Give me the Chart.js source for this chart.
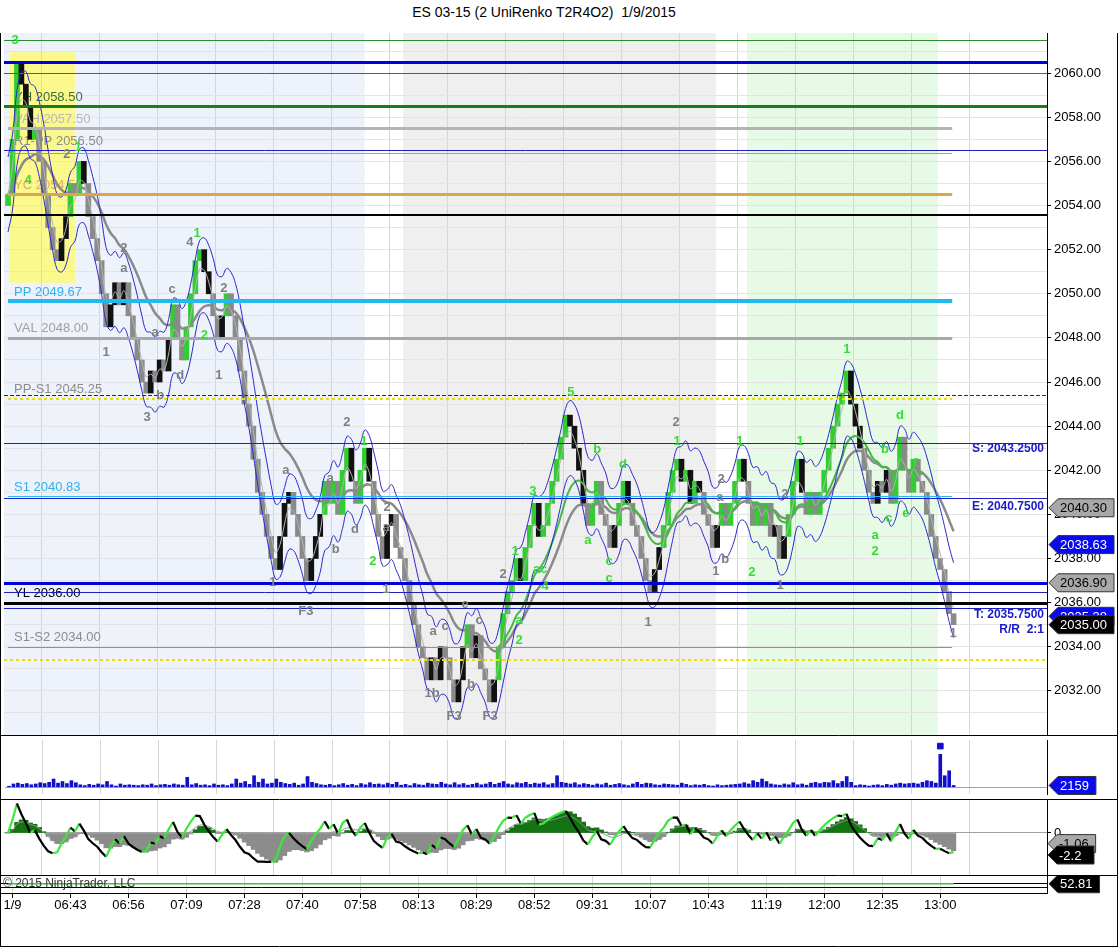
<!DOCTYPE html>
<html>
<head>
<meta charset="utf-8"/>
<title>ES 03-15 UniRenko</title>
<script src="https://cdn.jsdelivr.net/npm/chart.js@4.4.1/dist/chart.umd.min.js"></script>
<style>
  body { margin:0; background:#fff; width:1118px; height:947px; position:relative; overflow:hidden; font-family:"Liberation Sans", Arial, sans-serif; }
  .title { position:absolute; top:4px; left:0; width:1088px; text-align:center; font-size:14px; line-height:16px; color:#000; white-space:pre; }
  canvas { position:absolute; left:0; }
</style>
</head>
<body>
<div class="title">ES 03-15 (2 UniRenko T2R4O2)  1/9/2015</div>
<canvas id="main" width="1118" height="702" style="top:33px"></canvas>
<canvas id="vol" width="1118" height="64" style="top:735px"></canvas>
<canvas id="osc" width="1118" height="76" style="top:799px"></canvas>
<canvas id="rsi" width="1118" height="72" style="top:875px"></canvas>
<script>
// ---- data ----
const tickIdx = [1,14,27,40,53,66,79,92,105,118,131,144,157,170,183,196,209];
const tickLabels = ['1/9','06:43','06:56','07:09','07:28','07:40','07:58','08:13','08:29','08:52','09:31','10:07','10:43','11:19','12:00','12:35','13:00'];

// renko brick closes, one per brick
const closes = [
  2054.5,2057,2060.5,2059.5,2058.5,2057,2057.5,2056,2054.5,2053,2052,2051.5,
  2052.5,2053.5,2055,2054.5,2056,2055,
  2053.5,2052.5,2051.5,2050,2048.5,
  2049.5,2050.5,2049.5,2050.5,2049,
  2048,2047,2046,2045.5,
  2046.5,2046,2047,2046.5,
  2048,2049.5,2048,2047,
  2048.5,2050,2051.5,2052,
  2051,2050,2049,2048,2049,2050,2049,
  2048,2046.5,2045,2044,2042.5,2041,2040,2039,2038,2037.5,
  2039,2040.5,2041,2040,2039,2038,2037,2038,2039,
  2040,2041.5,2040.5,2041.5,2040,2042,2043,2041.5,2040.5,2042,2043,
  2041.5,2040,2039,2038,2039.5,2040,2038.5,2038,
  2037,2036,2035,2034,2033.5,2032.5,
  2033.5,2032.5,2034,2033.5,2032.5,2031.5,2032.5,
  2034,2035,2033.5,2034.5,2033,2032.5,2031.5,2032.5,
  2034,2035.5,2036.5,2037,2038,2037,2038.5,2039.5,2040.5,
  2039,2039.5,2040.5,2041.5,2042.5,2043.5,2044.5,2044,
  2043,2042,2040.5,2039.5,
  2040.5,2041.5,2040,2039.5,2038.5,2039.5,2040.5,2041.5,
  2040.5,2039.5,2039,2038,2037,2036.5,
  2037.5,2038.5,2039.5,2041,2042,2042.5,
  2041.5,2042,2040.5,2041.5,2041,2040,2039.5,2038.5,
  2039.5,2040.5,2039.5,2040.5,2041.5,2042.5,
  2041.5,2040.5,2039.5,2040.5,2039.5,2040.5,2039,2039.5,2038,
  2039,2040,2041.5,2042.5,2041,2040,2041,2040,2041,
  2042,2043,2044,2045,2045.5,2046.5,
  2045,2044,2043,2042,2041,2040.5,
  2041.5,2041,2042,2040.5,2042,2043.5,2042,2041,2042.5,
  2041.5,2041,2040,2039,2038,2037.5,2036.5,2035.5,2035
];

const volumes = [
  1200,4000,5000,3500,4500,3000,4000,5500,4500,6000,10000,5000,
  7000,4500,8000,5500,3000,2000,3500,2500,4000,3000,7000,3000,
  1500,4000,2500,3000,2500,2000,3000,2500,4000,2000,3000,3500,
  2500,4000,3000,2500,12000,3000,4500,2500,3000,2000,4000,2500,
  3000,2000,4000,10000,5000,7000,3500,14000,6000,10000,4000,5000,
  10000,6000,4500,3500,5000,2500,4000,13000,6000,4500,3000,2500,
  3500,2000,3000,4500,2500,3500,2000,4500,3000,5500,3500,4000,
  3000,5000,3500,6000,2500,3500,2000,4500,3000,2500,5000,4000,
  3500,6000,4000,3000,5500,3000,4500,2500,3500,5000,3000,4000,
  6000,3500,5000,7000,4000,3000,5500,4500,6000,3500,5000,4000,
  5500,3000,4500,14000,6000,5000,4000,5500,3000,4500,3500,2500,
  4000,3000,5000,2500,3500,4500,3000,2000,4000,6000,3500,5000,
  4500,3000,2500,4000,3500,3000,2500,5000,3500,2000,3000,2500,
  3500,2000,1500,3000,2000,2500,3000,3500,4000,5500,4000,8000,
  6000,10000,7000,4000,3000,2500,4000,3000,5500,3000,4000,2500,
  5000,6000,4500,6000,5500,8000,4500,7000,13000,6000,2000,3000,
  2500,1500,2500,3000,2000,3500,2500,4000,5000,4000,4500,5000,
  4000,6000,8000,7000,5000,40000,14000,20000,2159
];

// horizontal levels
const levelPrice = [2061.5,2060.5,2060.0,2058.5,2057.5,2056.5,2056.4,2054.5,2053.57,2049.67,2048.0,2045.4,2045.25,2043.25,2040.83,2040.75,2036.9,2036.5,2036.0,2035.75,2034.0,2033.4];
const levelColor = ['#2e8b2e','#0000dd','#e02424','#1c7c1c','#b4b4b4','#2020c0','#a0a0a0','#d8a848','#000000','#22b8f0','#a8a8a8','#20208a','#e6de10','#2020c0','#30b8f0','#2020c0','#0000dd','#2020c0','#000000','#2020c0','#909090','#e6de10'];
const levelWidth = [1,3,1,3,3,1,1,3,2,4,3,1,2,1,1,1,3,1,3,1,1,2];
const levelDash  = [0,0,0,0,0,0,0,0,0,0,0,1,2,0,0,0,0,0,0,0,0,2];
const levelFull  = [1,1,1,1,0,1,0,0,1,0,0,1,0,1,0,1,1,1,1,1,0,1];

const levelLabelText  = ['YH 2058.50','VAH 2057.50','R1-PP 2056.50','YC 2054.50','PP 2049.67','VAL 2048.00','PP-S1 2045.25','S1 2040.83','YL 2036.00','S1-S2 2034.00'];
const levelLabelPrice = [2058.5,2057.5,2056.5,2054.5,2049.67,2048.0,2045.25,2040.83,2036.0,2034.0];
const levelLabelColor = ['#3a6e3a','#b8b8b8','#8c8c8c','#d8b060','#30b0e8','#a0a0a0','#8c8c8c','#30b0e8','#000000','#8c8c8c'];

const rightText  = ['S: 2043.2500','E: 2040.7500','T: 2035.7500','R/R  2:1'];
const rightPrice = [2043.25,2040.75,2035.75,2035.75];

const tagVal  = [2040.30,2038.63,2036.90,2035.38,2035.00];
const tagText = ['2040.30','2038.63','2036.90','2035.38','2035.00'];
const tagBg   = ['#a8a8a8','#0a0aee','#a8a8a8','#0a0aee','#000000'];
const tagFg   = ['#000','#fff','#000','#fff','#fff'];

// wave count labels
const greenIdx   = [1.6,4.5,15.7,42.4,44,79.8,81.8,113.7,114.6,114.6,117.7,119.3,120.4,126.2,132.1,137.9,130,134.8,134.8,150,164.1,177.6,188.1,200,196.6,203.4,197.5,201.3,194.4,194.4,166.8];
const greenPrice = [2061.5,2055.15,2056.65,2052.75,2048.1,2043.3,2037.85,2038.3,2035.2,2034.3,2041.05,2037.5,2036.75,2045.55,2042.95,2042.25,2038.8,2037.85,2037.1,2043.3,2043.3,2043.3,2047.5,2044.5,2042.95,2042.3,2039.8,2040.05,2039.05,2038.3,2037.35];
const greenText  = ['3','4','1','1','2','1','2','1','a','2','3','ac','4','5','b','d','a','c','c','1','1','1','1','d','b','f','c','e','a','2','2'];
const grayIdx    = [13.2,26,26,22,31.2,33,34.1,36.8,38.6,40.8,48.4,47.3,62.3,59.4,66.8,72.2,73.5,77.8,76,85,84.8,84.8,95.1,95.3,98,102.5,105.6,103.8,100,108.1,111,149.8,143.5,159.9,159.6,160.8,158.7,173.1,174.2,211.9];
const grayPrice  = [2056.3,2052.05,2051.15,2047.35,2044.4,2048.25,2045.4,2050.2,2046.3,2052.35,2050.25,2046.3,2042.0,2036.9,2035.6,2041.65,2038.4,2039.3,2044.15,2040.3,2039.4,2036.6,2031.9,2034.7,2034.9,2035.9,2035.2,2032.3,2030.85,2030.85,2037.3,2044.15,2035.1,2041.6,2040.75,2037.95,2037.4,2036.8,2040.9,2034.6];
const grayText   = ['2','2','a','1','3','a','b','c','d','4','2','1','a','1','F3','a','b','d','2','2','a','1','1b','a','c','e','c','b','F3','F3','2','2','1','2','a','b','1','1','2','1'];

// session shading (brick index ranges)
const zoneFrom  = [-0.9, 88.6, 165.7];
const zoneTo    = [80.0, 158.7, 208.5];
const zoneColor = ['#eef2fb','#efefef','#e6fae6'];

// ---- derived series ----
function ema(src, n, from) {
  const a = 2 / (n + 1);
  const out = new Array(src.length).fill(null);
  let e = src[from];
  for (let i = from; i < src.length; i++) {
    e = i === from ? src[i] : e + a * (src[i] - e);
    out[i] = e;
  }
  return out;
}
const opens = closes.map((c, i) => {
  if (i === 0) return c - 0.5;
  const p = closes[i - 1];
  if (Math.abs(c - p) < 0.5) return c >= p ? c - 0.5 : c + 0.5;
  return p;
});
const slow = ema(closes, 18, 0);
const fast = ema(closes, 3, 0);
const mid = ema(closes, 4, 0);
const grn = ema(closes, 12, 110);
const e5 = ema(closes, 5, 0), e10 = ema(closes, 10, 0), e20 = ema(closes, 20, 0);
const oscLine = closes.map((c, i) => (c - e10[i]) * 0.65);
const oscSig = ema(oscLine, 8, 0);
const oscHist = closes.map((c, i) => (e5[i] - e20[i]) * 0.6);

const brickColor = closes.map((c, i) => {
  const up = c > opens[i];
  if (up) return c >= slow[i] ? '#33cc33' : '#111111';
  return c <= slow[i] ? '#8a8a8a' : '#111111';
});
const pts = arr => arr.map((v, i) => ({x: i, y: v})).filter(p => p.y !== null);

Chart.defaults.font.family = '"Liberation Sans", Arial, sans-serif';
Chart.defaults.color = '#000';

const X_MIN = -0.9, X_MAX = 232.95, AXIS_W = 71;

function hiddenX() {
  return {
    type: 'linear', min: X_MIN, max: X_MAX, offset: false,
    ticks: { display: false },
    grid: { color: '#d6d6d6', drawTicks: false },
    border: { display: false },
    afterBuildTicks: s => { s.ticks = tickIdx.map(v => ({value: v})); },
    afterFit: s => { s.height = 0; s.paddingLeft = 0; s.paddingRight = 0; }
  };
}
function fitY(s) { s.width = AXIS_W; s.paddingTop = 0; s.paddingBottom = 0; }

function drawTag(ctx, x, y, txt, bg, fg) {
  ctx.save();
  ctx.font = '13px "Liberation Sans", Arial, sans-serif';
  const w = Math.max(46, ctx.measureText(txt).width + 18);
  const h = 18;
  ctx.beginPath();
  ctx.moveTo(x, y);
  ctx.lineTo(x + 9, y - h / 2);
  ctx.lineTo(x + w, y - h / 2);
  ctx.lineTo(x + w, y + h / 2);
  ctx.lineTo(x + 9, y + h / 2);
  ctx.closePath();
  ctx.fillStyle = bg; ctx.fill();
  ctx.strokeStyle = '#333'; ctx.lineWidth = 1; ctx.stroke();
  ctx.fillStyle = fg; ctx.textBaseline = 'middle'; ctx.textAlign = 'left';
  ctx.fillText(txt, x + 11, y + 1);
  ctx.restore();
}
function frame(chart, topLine) {
  const ctx = chart.ctx;
  ctx.save();
  ctx.strokeStyle = '#000'; ctx.lineWidth = 1;
  ctx.beginPath();
  ctx.moveTo(0.5, 0); ctx.lineTo(0.5, chart.height);
  ctx.moveTo(chart.width - 0.5, 0); ctx.lineTo(chart.width - 0.5, chart.height);
  if (topLine) { ctx.moveTo(0, 0.5); ctx.lineTo(chart.width, 0.5); }
  ctx.stroke();
  ctx.restore();
}

// ---- main price panel ----
const mainDecor = {
  id: 'mainDecor',
  beforeDraw(chart) {
    const {ctx, chartArea: a, scales: {x, y}} = chart;
    ctx.save();
    ctx.fillStyle = '#fff'; ctx.fillRect(0, 0, chart.width, chart.height);
    for (let k = 0; k < zoneFrom.length; k++) {
      const x0 = Math.max(a.left, x.getPixelForValue(zoneFrom[k]));
      const x1 = x.getPixelForValue(zoneTo[k]);
      ctx.fillStyle = zoneColor[k];
      ctx.fillRect(x0, a.top, x1 - x0, a.bottom - a.top);
    }
    const bx0 = x.getPixelForValue(0.45), bx1 = x.getPixelForValue(15.0);
    const by0 = y.getPixelForValue(2060.95), by1 = y.getPixelForValue(2050.5);
    ctx.fillStyle = '#fbf98c';
    ctx.fillRect(bx0, by0, bx1 - bx0, by1 - by0);
    ctx.restore();
  },
  beforeDatasetsDraw(chart) {
    const {ctx, chartArea: a, scales: {y}} = chart;
    ctx.save();
    ctx.font = '13px "Liberation Sans", Arial, sans-serif';
    ctx.textBaseline = 'middle';
    for (let k = 0; k < levelLabelText.length; k++) {
      ctx.fillStyle = levelLabelColor[k];
      ctx.fillText(levelLabelText[k], a.left + 10, y.getPixelForValue(levelLabelPrice[k]) - 9);
    }
    ctx.restore();
  },
  afterDatasetsDraw(chart) {
    const {ctx, chartArea: a, scales: {x, y}} = chart;
    ctx.save();
    const shortEnd = x.getPixelForValue(211.7), shortStart = x.getPixelForValue(0);
    for (let k = 0; k < levelPrice.length; k++) {
      const py = Math.round(y.getPixelForValue(levelPrice[k])) + (levelWidth[k] % 2 ? 0.5 : 0);
      ctx.strokeStyle = levelColor[k];
      ctx.lineWidth = levelWidth[k];
      ctx.setLineDash(levelDash[k] === 1 ? [4, 2] : levelDash[k] === 2 ? [3, 3] : []);
      ctx.beginPath();
      ctx.moveTo(levelFull[k] ? a.left : shortStart, py);
      ctx.lineTo(levelFull[k] ? a.right : shortEnd, py);
      ctx.stroke();
    }
    ctx.setLineDash([]);
    // right side trade texts
    ctx.font = 'bold 12px "Liberation Sans", Arial, sans-serif';
    ctx.fillStyle = '#1a1acc'; ctx.textAlign = 'right'; ctx.textBaseline = 'middle';
    const offs = [6, 9, 7, 22];
    for (let k = 0; k < rightText.length; k++) {
      ctx.fillText(rightText[k], a.right - 3, y.getPixelForValue(rightPrice[k]) + offs[k]);
    }
    // wave count labels
    ctx.font = 'bold 13px "Liberation Sans", Arial, sans-serif';
    ctx.textAlign = 'center';
    ctx.fillStyle = '#33dd33';
    for (let k = 0; k < greenText.length; k++) ctx.fillText(greenText[k], x.getPixelForValue(greenIdx[k]), y.getPixelForValue(greenPrice[k]));
    ctx.fillStyle = '#7f7f7f';
    for (let k = 0; k < grayText.length; k++) ctx.fillText(grayText[k], x.getPixelForValue(grayIdx[k]), y.getPixelForValue(grayPrice[k]));
    ctx.restore();
  },
  afterDraw(chart) {
    const {scales: {y}, chartArea: a} = chart;
    for (let k = 0; k < tagVal.length; k++) drawTag(chart.ctx, a.right + 2, y.getPixelForValue(tagVal[k]), tagText[k], tagBg[k], tagFg[k]);
    frame(chart, false);
  }
};

new Chart(document.getElementById('main'), {
  type: 'bar',
  data: {
    datasets: [
      { type: 'line', data: pts(fast), borderColor: '#b4b4b4', borderWidth: 1, pointRadius: 0, tension: 0.35, order: 1 },
      { type: 'line', data: pts(mid.map(v => v + 1.7)), borderColor: '#2a2ad0', borderWidth: 1, pointRadius: 0, tension: 0.4, order: 2 },
      { type: 'line', data: pts(mid.map(v => v - 1.7)), borderColor: '#2a2ad0', borderWidth: 1, pointRadius: 0, tension: 0.4, order: 2 },
      { type: 'line', data: pts(grn).filter(p => p.x <= 205), borderColor: '#46b846', borderWidth: 2, pointRadius: 0, tension: 0.4, order: 3 },
      { type: 'line', data: pts(slow), borderColor: '#8a8a8a', borderWidth: 2.5, pointRadius: 0, tension: 0.4, order: 3 },
      { type: 'bar', data: closes.map((c, i) => ({x: i, y: [opens[i], c]})), backgroundColor: brickColor, borderWidth: 0, barThickness: 5, order: 5 }
    ]
  },
  options: {
    responsive: false, animation: false,
    layout: { padding: { left: 4, right: 0, top: 0, bottom: 0 } },
    plugins: { legend: { display: false }, tooltip: { enabled: false } },
    scales: {
      x: hiddenX(),
      y: {
        position: 'right', min: 2030.0, max: 2061.82,
        afterBuildTicks: s => { const t = []; for (let v = 2031; v <= 2061; v++) t.push({value: v}); s.ticks = t; },
        ticks: { font: { size: 13 }, color: '#000', padding: 3, autoSkip: false, callback: v => (v % 2 === 0 ? v.toFixed(2) : '') },
        grid: { color: '#e4e4e4', tickLength: 4, tickColor: c => (c.tick && c.tick.value % 2 === 0 ? '#000' : 'rgba(0,0,0,0)') },
        border: { display: true, color: '#000' },
        afterFit: fitY
      }
    }
  },
  plugins: [mainDecor]
});

// ---- volume panel ----
const volMax = Math.max(...volumes);
const volMaxIdx = volumes.indexOf(volMax);
new Chart(document.getElementById('vol'), {
  type: 'bar',
  data: {
    datasets: [
      { type: 'line', data: [{x: volMaxIdx, y: volMax * 1.25}], showLine: false, pointStyle: 'rect', pointRadius: 4, backgroundColor: '#1010c8', borderColor: '#1010c8', order: 1 },
      { type: 'bar', data: volumes.map((v, i) => ({x: i, y: v})), backgroundColor: '#1010c8', borderWidth: 0, barThickness: 3, order: 2 }
    ]
  },
  options: {
    responsive: false, animation: false,
    layout: { padding: { left: 4, right: 0, top: 0, bottom: 0 } },
    plugins: { legend: { display: false }, tooltip: { enabled: false } },
    scales: {
      x: hiddenX(),
      y: {
        position: 'right', min: -8200, max: 57400,
        afterBuildTicks: s => { s.ticks = [{value: 0}]; },
        ticks: { display: false },
        grid: { color: '#a0a0a0', drawTicks: false },
        border: { display: true, color: '#000' },
        afterFit: fitY
      }
    }
  },
  plugins: [{
    id: 'volDecor',
    afterDraw(chart) {
      const {scales: {y}, chartArea: a} = chart;
      drawTag(chart.ctx, a.right + 2, y.getPixelForValue(volumes[volumes.length - 1]), '2159', '#0a0aee', '#fff');
      frame(chart, true);
    }
  }]
});

// ---- oscillator panel ----
new Chart(document.getElementById('osc'), {
  type: 'bar',
  data: {
    datasets: [
      { type: 'line', data: pts(oscLine), borderWidth: 2.2, pointRadius: 0, tension: 0,
        segment: { borderColor: c => (c.p1.parsed.y >= c.p0.parsed.y ? '#3ae83a' : '#000') }, order: 1 },
      { type: 'line', data: pts(oscSig), borderColor: '#909090', borderWidth: 1, pointRadius: 0, tension: 0.3, order: 2 },
      { type: 'bar', data: oscHist.map((v, i) => ({x: i, y: v})), backgroundColor: oscHist.map(v => (v >= 0 ? '#127412' : '#8c8c8c')), borderWidth: 0, barThickness: 4.6, order: 3 }
    ]
  },
  options: {
    responsive: false, animation: false,
    layout: { padding: { left: 4, right: 0, top: 0, bottom: 0 } },
    plugins: { legend: { display: false }, tooltip: { enabled: false } },
    scales: {
      x: hiddenX(),
      y: {
        position: 'right', min: -4.2, max: 3.4,
        afterBuildTicks: s => { s.ticks = [{value: 0}]; },
        ticks: { font: { size: 13 }, color: '#000', padding: 3, callback: v => String(v) },
        grid: { color: '#a0a0a0', tickLength: 4, tickColor: '#000' },
        border: { display: true, color: '#000' },
        afterFit: fitY
      }
    }
  },
  plugins: [{
    id: 'oscDecor',
    afterDraw(chart) {
      const {scales: {y}, chartArea: a} = chart;
      drawTag(chart.ctx, a.right + 1, y.getPixelForValue(-1.06), '-1.06', '#a8a8a8', '#000');
      drawTag(chart.ctx, a.right + 1, y.getPixelForValue(-2.2), '-2.2', '#000', '#fff');
      frame(chart, true);
    }
  }]
});

// ---- bottom small panel + time axis ----
new Chart(document.getElementById('rsi'), {
  type: 'line',
  data: { datasets: [] },
  options: {
    responsive: false, animation: false,
    layout: { padding: { left: 4, right: 0, top: 0, bottom: 0 } },
    plugins: { legend: { display: false }, tooltip: { enabled: false } },
    scales: {
      x: {
        type: 'linear', min: X_MIN, max: X_MAX, offset: false,
        afterBuildTicks: s => { s.ticks = tickIdx.map(v => ({value: v})); },
        ticks: { font: { size: 13 }, color: '#000', padding: 0, maxRotation: 0, autoSkip: false,
          callback: v => tickLabels[tickIdx.indexOf(v)] },
        grid: { color: '#d6d6d6', tickColor: '#000', tickLength: 5 },
        border: { display: false },
        afterFit: s => { s.height = 54; s.paddingLeft = 0; s.paddingRight = 0; }
      },
      y: {
        position: 'right', min: 40, max: 65,
        ticks: { display: false },
        grid: { display: false },
        border: { display: true, color: '#000' },
        afterFit: fitY
      }
    }
  },
  plugins: [{
    id: 'rsiDecor',
    afterDraw(chart) {
      const {ctx, scales: {x, y}, chartArea: a} = chart;
      ctx.save();
      ctx.strokeStyle = '#000'; ctx.lineWidth = 1;
      ctx.beginPath();
      [54.5, 49].forEach(v => { const py = Math.round(y.getPixelForValue(v)) + 0.5; ctx.moveTo(a.left - 4, py); ctx.lineTo(a.right, py); });
      ctx.moveTo(0, a.bottom + 0.5); ctx.lineTo(a.right, a.bottom + 0.5);
      ctx.moveTo(0, chart.height - 0.5); ctx.lineTo(chart.width, chart.height - 0.5);
      ctx.stroke();
      ctx.strokeStyle = '#33cc33'; ctx.lineWidth = 1.5;
      ctx.beginPath();
      const gy = y.getPixelForValue(52.81);
      ctx.moveTo(x.getPixelForValue(0), gy); ctx.lineTo(x.getPixelForValue(closes.length - 1), gy);
      ctx.stroke();
      ctx.font = '12px "Liberation Sans", Arial, sans-serif';
      ctx.fillStyle = '#333'; ctx.textBaseline = 'middle';
      ctx.fillText('\u00a9 2015 NinjaTrader, LLC', 3, gy);
      ctx.restore();
      drawTag(ctx, a.right + 2, gy, '52.81', '#000', '#fff');
      frame(chart, true);
    }
  }]
});
</script>
</body>
</html>
